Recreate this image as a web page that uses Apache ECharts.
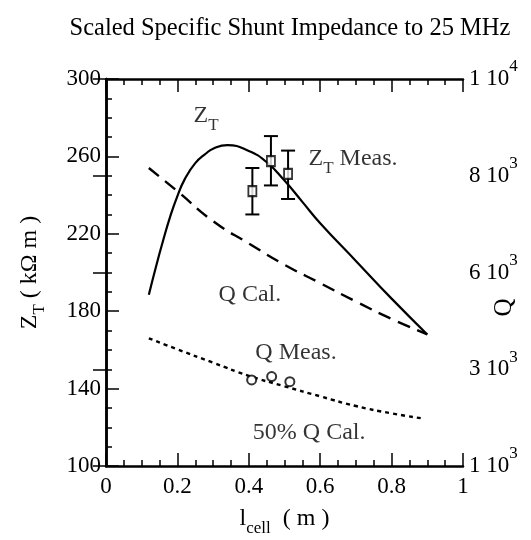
<!DOCTYPE html>
<html>
<head>
    <meta charset="utf-8">
    <title>Scaled Specific Shunt Impedance</title>
    <script src="https://cdn.jsdelivr.net/npm/echarts@6/dist/echarts.min.js"></script>
    <style>
        html, body { margin: 0; padding: 0; background: #fff; }
        #chart { width: 531px; height: 540px; }
    </style>
</head>
<body>
<div id="chart"></div>
<script type="text/javascript">
    // Z_T calculated curve (kOhm m) vs cell length (m)
    var ztCalcL = [0.12, 0.14, 0.16, 0.18, 0.2, 0.22, 0.25, 0.28, 0.3, 0.34, 0.4, 0.45, 0.5, 0.55, 0.6, 0.7, 0.8, 0.9];
    var ztCalc = [188.5, 203, 216.5, 229, 239.5, 248, 256.5, 261.5, 264, 265.8, 262.8, 257, 247.5, 236.5, 225.5, 206, 186.5, 168];

    // Z_T measured, with error bars
    var ztMeasL = [0.41, 0.462, 0.51];
    var ztMeas = [242, 257.5, 251];
    var ztErrLow = [230, 245, 238];
    var ztErrHigh = [254, 270.5, 263];

    // Q curves, read in right-axis plot units (axis is labelled 1e3 .. 1e4)
    var qCalL = [0.12, 0.2, 0.3, 0.4, 0.5, 0.6, 0.7, 0.8, 0.9];
    var qCal = [254, 242, 226.5, 215, 204, 194.5, 185, 176, 168];
    var q50L = [0.12, 0.2, 0.3, 0.4, 0.5, 0.6, 0.7, 0.8, 0.89];
    var q50 = [166, 160.3, 153.4, 146.6, 141.2, 136, 131, 127.2, 124.5];
    var qMeasL = [0.408, 0.464, 0.515];
    var qMeas = [144.5, 146.2, 143.6];

    // right axis tick labels
    var qTickVals = [100, 150, 200, 250, 300];
    var qTickText = ['{n|1 10}{sup|3}', '{n|3 10}{sup|3}', '{n|6 10}{sup|3}', '{n|8 10}{sup|3}', '{n|1 10}{sup|4}'];

    // text labels in the plot
    var noteText = ['{t|Z}{sub|T}', '{t|Z}{sub|T}{t| Meas.}', '{t|Q Cal.}', '{t|Q Meas.}', '{t|50% Q Cal.}'];
    var noteL = [0.244, 0.566, 0.314, 0.417, 0.41];
    var noteV = [281, 259, 188.4, 158.4, 117];

    var FONT = 'Liberation Serif';
    var richText = {
        t: { fontSize: 24, fontFamily: FONT, color: '#000' },
        sub: { fontSize: 17, fontFamily: FONT, color: '#000', padding: [20, 0, 0, 0] },
        n: { fontSize: 23, fontFamily: FONT, color: '#000' },
        sup: { fontSize: 17, fontFamily: FONT, color: '#000', padding: [0, 0, 24, 0] }
    };

    function zip(a, b) {
        return a.map(function (v, i) { return [v, b[i]]; });
    }

    var axisLineStyle = { color: '#000', width: 2.5 };
    var tickStyle = { color: '#000', width: 1.5 };

    var myChart = echarts.init(document.getElementById('chart'));
    myChart.setOption({
        animation: false,
        backgroundColor: '#fff',
        title: {
            text: 'Scaled Specific Shunt Impedance to 25 MHz',
            left: 285,
            top: 11,
            textAlign: 'center',
            textStyle: { fontFamily: FONT, fontSize: 24.5, fontWeight: 'normal', color: '#000' }
        },
        grid: { left: 106, right: 68, top: 79, bottom: 74, outerBoundsMode: 'none', containLabel: false },
        xAxis: [
            {
                type: 'value', min: 0, max: 1, interval: 0.2, position: 'bottom',
                name: '{t|l}{sub|cell}{t|  ( m )}',
                nameLocation: 'middle', nameGap: 34,
                nameTextStyle: { rich: richText },
                axisLine: { lineStyle: axisLineStyle },
                axisTick: { inside: true, length: 13, lineStyle: tickStyle },
                minorTick: { show: true, splitNumber: 4, length: 6, lineStyle: tickStyle },
                splitLine: { show: false },
                axisLabel: {
                    margin: 9, fontSize: 23, fontFamily: FONT, color: '#000',
                    formatter: function (v) { return (v === 0 || v === 1) ? String(v) : v.toFixed(1); }
                }
            },
            {
                type: 'value', min: 0, max: 1, interval: 0.2, position: 'top',
                axisLine: { lineStyle: axisLineStyle },
                axisTick: { inside: true, length: 13, lineStyle: tickStyle },
                minorTick: { show: true, splitNumber: 4, length: 6, lineStyle: tickStyle },
                splitLine: { show: false },
                axisLabel: { show: false }
            }
        ],
        yAxis: [
            {
                type: 'value', min: 100, max: 300, interval: 40, position: 'left',
                name: '{t|Z}{sub|T}{t| ( kΩ m )}',
                nameLocation: 'middle', nameGap: 58, nameRotate: 90,
                nameTextStyle: { rich: richText },
                axisLine: { show: true, lineStyle: axisLineStyle },
                axisTick: { show: true, inside: true, length: 13, lineStyle: tickStyle },
                minorTick: { show: true, splitNumber: 4, length: 6, lineStyle: tickStyle },
                splitLine: { show: false },
                axisLabel: { margin: 5, fontSize: 23, fontFamily: FONT, color: '#000' }
            },
            {
                type: 'value', min: 100, max: 300, interval: 50, position: 'right',
                name: 'Q',
                nameLocation: 'middle', nameGap: 29, nameRotate: 90, nameMoveOverlap: false,
                nameTextStyle: { fontSize: 25, fontFamily: FONT, color: '#000', padding: [0, 70, 0, 0] },
                axisLine: { show: true, lineStyle: axisLineStyle },
                axisTick: { show: true, inside: true, length: 13, lineStyle: tickStyle },
                splitLine: { show: false },
                axisLabel: {
                    margin: 6, fontFamily: FONT, color: '#000', rich: richText,
                    formatter: function (v) {
                        var i = qTickVals.indexOf(v);
                        return i < 0 ? '' : qTickText[i];
                    }
                }
            }
        ],
        series: [
            {
                name: 'Z_T calc', type: 'line', smooth: 0.5, symbol: 'none',
                data: zip(ztCalcL, ztCalc),
                lineStyle: { color: '#000', width: 2.2 }
            },
            {
                name: 'Q Cal.', type: 'line', yAxisIndex: 1, smooth: true, symbol: 'none',
                data: zip(qCalL, qCal),
                lineStyle: { color: '#000', width: 2.4, type: [13, 8] }
            },
            {
                name: '50% Q Cal.', type: 'line', yAxisIndex: 1, smooth: true, symbol: 'none',
                data: zip(q50L, q50),
                lineStyle: { color: '#000', width: 2.4, type: [4, 4] }
            },
            {
                name: 'Z_T error', type: 'custom',
                data: ztMeasL.map(function (l, i) { return [l, ztErrLow[i], ztErrHigh[i]]; }),
                renderItem: function (params, api) {
                    var lo = api.coord([api.value(0), api.value(1)]);
                    var hi = api.coord([api.value(0), api.value(2)]);
                    var w = 7;
                    var st = { stroke: '#000', lineWidth: 2 };
                    return {
                        type: 'group',
                        children: [
                            { type: 'line', shape: { x1: lo[0], y1: lo[1], x2: hi[0], y2: hi[1] }, style: st },
                            { type: 'line', shape: { x1: lo[0] - w, y1: lo[1], x2: lo[0] + w, y2: lo[1] }, style: st },
                            { type: 'line', shape: { x1: hi[0] - w, y1: hi[1], x2: hi[0] + w, y2: hi[1] }, style: st }
                        ]
                    };
                },
                z: 3
            },
            {
                name: 'Z_T Meas.', type: 'scatter', symbol: 'rect', symbolSize: [8, 10],
                data: zip(ztMeasL, ztMeas),
                itemStyle: { color: '#fff', borderColor: '#000', borderWidth: 2 },
                z: 4
            },
            {
                name: 'Q Meas.', type: 'scatter', yAxisIndex: 1, symbol: 'circle', symbolSize: 9,
                data: zip(qMeasL, qMeas),
                itemStyle: { color: '#fff', borderColor: '#000', borderWidth: 2 },
                z: 4
            },
            {
                name: 'notes', type: 'scatter', symbolSize: 1, silent: true,
                itemStyle: { color: 'rgba(0,0,0,0)' },
                data: noteL.map(function (l, i) { return { value: [l, noteV[i]], name: noteText[i] }; }),
                label: {
                    show: true, position: 'right', distance: 0,
                    formatter: function (p) { return p.name; },
                    rich: richText
                }
            }
        ]
    });
</script>
</body>
</html>
